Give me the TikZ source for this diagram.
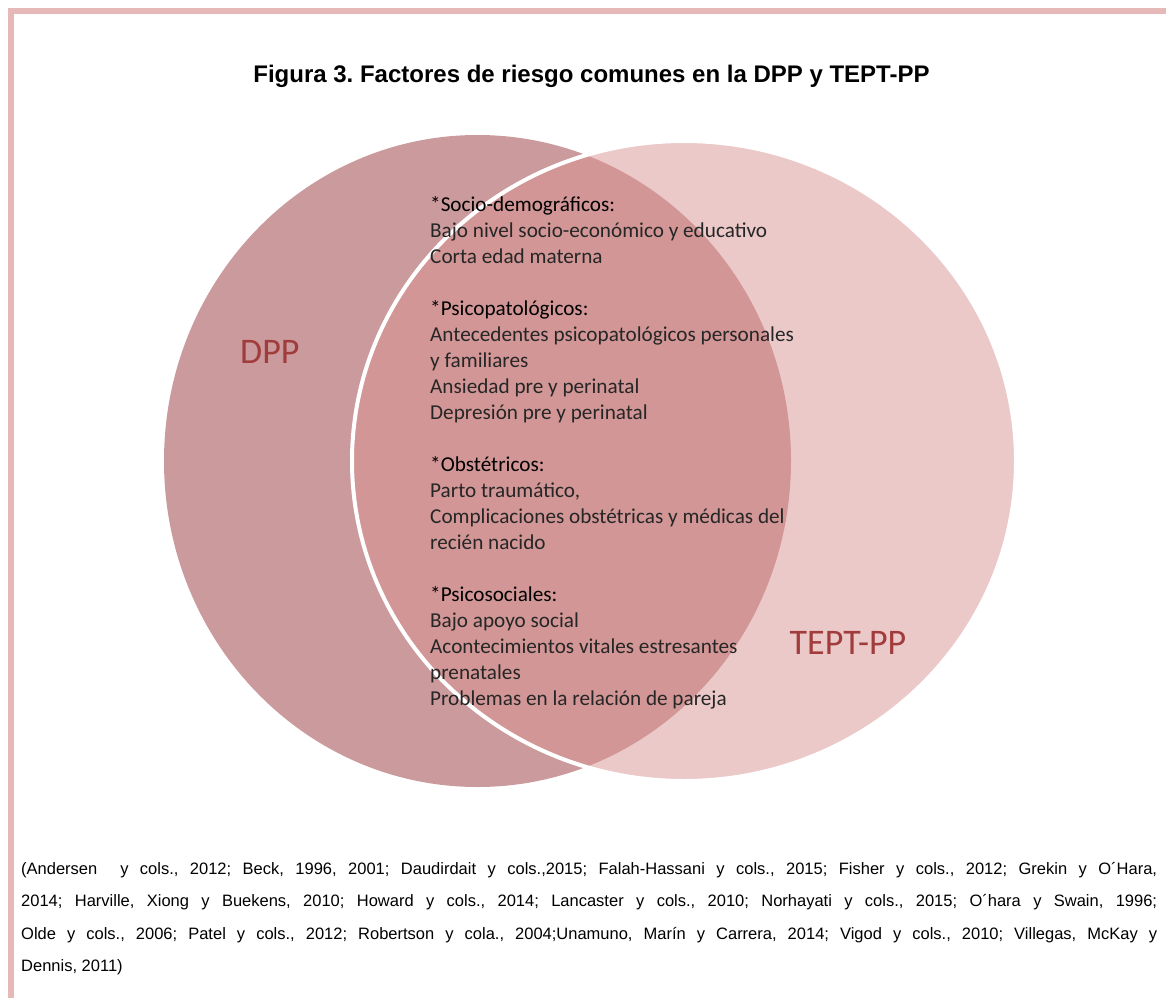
\documentclass[tikz,border=0pt]{standalone}
\usepackage{fontspec}
\setmainfont{Liberation Sans}
\newfontfamily\calib{Carlito}
\definecolor{borderc}{RGB}{230,184,184}
\definecolor{dppc}{RGB}{203,154,156}
\definecolor{ovc}{RGB}{210,150,150}
\definecolor{teptc}{RGB}{236,201,201}
\definecolor{labelc}{RGB}{161,60,60}
\definecolor{bodyc}{RGB}{38,38,38}
\begin{document}
\frenchspacing
\begin{tikzpicture}[x=1pt,y=1pt,
  circlabel/.style={anchor=base west, inner sep=0pt, text=labelc, font=\calib\fontsize{36}{40}\selectfont}]
\useasboundingbox (0,0) rectangle (1166,-998);
\fill[white] (0,0) rectangle (1166,-998);
\draw[borderc, line width=6pt] (1166,-11) -- (11,-11) -- (11,-998);
% circles
\fill[dppc] (477.5,-461) ellipse [x radius=313.5, y radius=326];
\fill[teptc] (684,-461) ellipse [x radius=332, y radius=320];
\begin{scope}
  \clip (477.5,-461) ellipse [x radius=313.5, y radius=326];
  \fill[ovc] (684,-461) ellipse [x radius=332, y radius=320];
\end{scope}
\draw[white, line width=4pt] (684,-461) ellipse [x radius=332, y radius=320];
% title
\node[anchor=base, inner sep=0pt, font=\bfseries\fontsize{24}{28}\selectfont] (title) at (591.5,-82.7)
  {Figura 3. Factores de riesgo comunes en la DPP y TEPT-PP};
% labels
\node[circlabel] (dpp) at (240,-363.3) {DPP};
\node[circlabel] (tept) at (789.5,-654.3) {TEPT-PP};
% factors
\node[anchor=base west, inner sep=0pt, text=bodyc, font=\calib\fontsize{21.2}{26}\selectfont] (factors) at (430,-211)
{\parbox[t]{430pt}{\raggedright\leavevmode
{\color{black}*Socio-demográficos:}\\
Bajo nivel socio-económico y educativo\\
Corta edad materna\\[26pt]
{\color{black}*Psicopatológicos:}\\
Antecedentes psicopatológicos personales\\
y familiares\\
Ansiedad pre y perinatal\\
Depresión pre y perinatal\\[26pt]
{\color{black}*Obstétricos:}\\
Parto traumático,\\
Complicaciones obstétricas y médicas del\\
recién nacido\\[26pt]
{\color{black}*Psicosociales:}\\
Bajo apoyo social\\
Acontecimientos vitales estresantes\\
prenatales\\
Problemas en la relación de pareja}};
% references
\node[anchor=base west, inner sep=0pt, font=\fontsize{16.5}{32.5}\selectfont] (refs) at (21,-874.3)
{\parbox[t]{1136pt}{\leavevmode
\makebox[1136pt][s]{(Andersen~ y cols., 2012; Beck, 1996, 2001; Daudirdait y cols.,2015; Falah-Hassani y cols., 2015; Fisher y cols., 2012; Grekin y O´Hara,}\\
\makebox[1136pt][s]{2014; Harville, Xiong y Buekens, 2010; Howard y cols., 2014; Lancaster y cols., 2010; Norhayati y cols., 2015; O´hara y Swain, 1996;}\\
\makebox[1136pt][s]{Olde y cols., 2006; Patel y cols., 2012; Robertson y cola., 2004;Unamuno, Marín y Carrera, 2014; Vigod y cols., 2010; Villegas, McKay y}\\
Dennis, 2011)}};
\end{tikzpicture}
\end{document}
